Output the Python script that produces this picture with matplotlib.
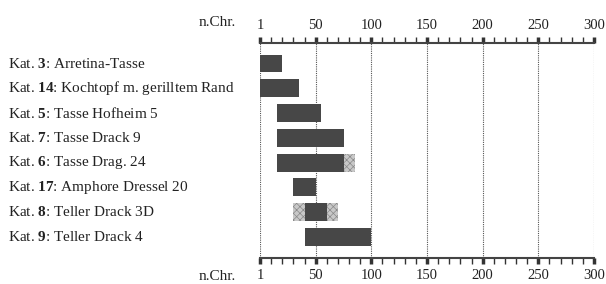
import matplotlib.pyplot as plt
from matplotlib import transforms

plt.rcParams['font.family'] = 'Liberation Serif'
plt.rcParams['mathtext.fontset'] = 'custom'
plt.rcParams['mathtext.rm'] = 'Liberation Serif'
plt.rcParams['mathtext.bf'] = 'Liberation Serif:bold'
plt.rcParams['hatch.color'] = '#8a8a8a'
plt.rcParams['hatch.linewidth'] = 0.5

# Katalog-Nummer, Bezeichnung
kat_nr = ['3', '14', '5', '7', '6', '17', '8', '9']
names = ['Arretina-Tasse', 'Kochtopf m. gerilltem Rand', 'Tasse Hofheim 5',
         'Tasse Drack 9', 'Tasse Drag. 24', 'Amphore Dressel 20',
         'Teller Drack 3D', 'Teller Drack 4']
# sichere Datierung (Jahre n.Chr., Achse beginnt bei 0 = "1")
start = [0, 0, 15, 15, 15, 30, 40, 40]
end = [20, 35, 55, 75, 75, 50, 60, 100]
# unsichere Datierung (start, end) pro Zeile
unsure = [[], [], [], [], [(75, 85)], [], [(30, 40), (60, 70)], []]

tick_pos = [0, 50, 100, 150, 200, 250, 300]
tick_labels = ['1', '50', '100', '150', '200', '250', '300']

fig = plt.figure(figsize=(6.06, 2.84), dpi=100)
ax = fig.add_axes([260/606, 1-258/284, 334/606, (258-43)/284])

rows = range(len(names))
ax.barh(rows, [e - s for s, e in zip(start, end)], left=start, height=0.72,
        color='#474747', zorder=3)
for i, spans in enumerate(unsure):
    for s, e in spans:
        ax.barh(i, e - s, left=s, height=0.72, color='#c8c8c8',
                hatch='xxxxx', linewidth=0, zorder=3)

ax.set_xlim(0, 300)
ax.set_ylim(7.85, -0.83)
ax.set_yticks([])
ax.set_xticks(tick_pos)
ax.set_xticklabels(tick_labels)
ax.set_xticks(range(0, 301, 10), minor=True)
ax.tick_params(which='both', top=True, labeltop=True, bottom=True,
               labelbottom=True, direction='out', colors='#333333',
               labelsize=10.5, labelcolor='#222222')
ax.tick_params(which='major', length=4, width=2.5, pad=4)
ax.tick_params(which='minor', length=4, width=1)
for sp in ['left', 'right']:
    ax.spines[sp].set_visible(False)
for sp in ['top', 'bottom']:
    ax.spines[sp].set_color('#444444')
    ax.spines[sp].set_linewidth(1.5)
ax.grid(axis='x', which='major', linestyle=(0, (1, 1)), color='#555555',
        linewidth=0.8, zorder=1)

trans = transforms.blended_transform_factory(fig.transFigure, ax.transData)
for i, (k, n) in enumerate(zip(kat_nr, names)):
    ax.text(8/606, i, 'Kat. $\\mathbf{%s}$: %s' % (k, n), transform=trans,
            ha='left', va='center', fontsize=11, color='#222222')

fig.text(236/606, 1-22/284, 'n.Chr.', ha='right', va='center',
         fontsize=11, color='#222222')
fig.text(236/606, 1-276/284, 'n.Chr.', ha='right', va='center',
         fontsize=11, color='#222222')

plt.savefig('out.png', dpi=100)
